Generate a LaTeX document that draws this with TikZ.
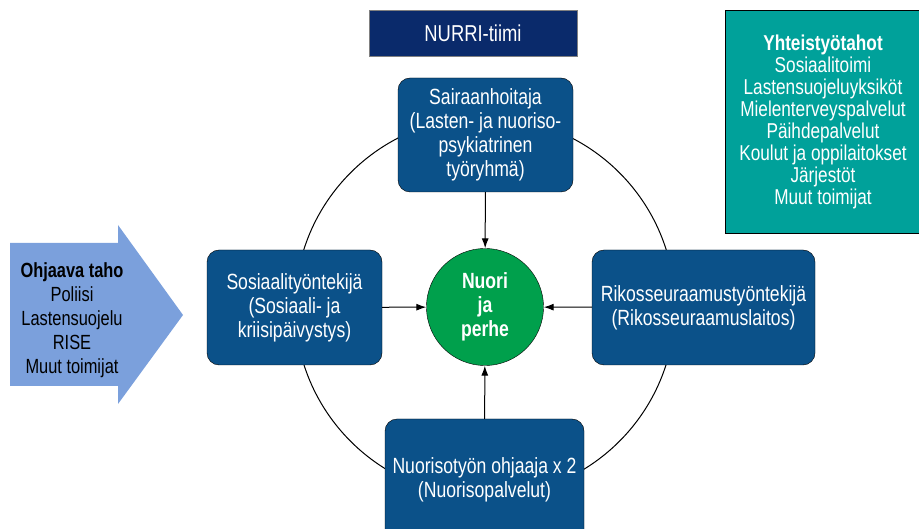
\documentclass[tikz,border=0pt]{standalone}
\usepackage{fontspec}
\setmainfont{Liberation Sans}[FakeStretch=0.8]
\usepackage{tikz}
\usetikzlibrary{arrows.meta}

\definecolor{boxblue}{HTML}{0B5189}
\definecolor{teamnavy}{HTML}{0A2A6B}
\definecolor{partnerteal}{HTML}{00A19A}
\definecolor{familygreen}{HTML}{00A04C}
\definecolor{referblue}{HTML}{7BA0DC}

\begin{document}
\begin{tikzpicture}[x=1pt, y=-1pt,
  member/.style={draw=black, fill=boxblue, rounded corners=12pt, text=white, align=center, font=\fontsize{22}{24}\selectfont},
  family/.style={circle, draw=black, fill=familygreen, minimum size=117pt, inner sep=0pt, text=white, align=center, font=\fontsize{22}{24}\selectfont\bfseries},
  toward/.style={-{Latex[length=10pt,width=7pt]}, line width=1pt}]
\useasboundingbox (0,0) rectangle (919,529);

% yhteistyön kehä
\draw[line width=1pt] (485,307) circle (190);

\node[draw=gray, fill=teamnavy, minimum width=208pt, minimum height=46pt, text=white, font=\fontsize{23}{24}\selectfont] (team) at (473,33) {NURRI-tiimi};
\node[draw=black, fill=partnerteal, minimum width=196pt, minimum height=223pt, text=white, align=center, font=\fontsize{21.5}{22}\selectfont] (partners) at (823,121.5) {\textbf{Yhteistyötahot}\\Sosiaalitoimi\\Lastensuojeluyksiköt\\Mielenterveyspalvelut\\Päihdepalvelut\\Koulut ja oppilaitokset\\Järjestöt\\Muut toimijat};

\node[family] (family) at (485,307) {Nuori\\ja\\perhe};
\node[member, minimum width=175pt, minimum height=114pt] (nurse) at (485.5,135) {Sairaanhoitaja\\(Lasten- ja nuoriso-\\psykiatrinen\\työryhmä)};
\node[member, minimum width=175pt, minimum height=115pt] (social) at (294.5,307.5) {Sosiaalityöntekijä\\(Sosiaali- ja\\kriisipäivystys)};
\node[member, minimum width=223pt, minimum height=115pt] (probation) at (703.5,307.5) {Rikosseuraamustyöntekijä\\(Rikosseuraamuslaitos)};
\node[member, minimum width=199pt, minimum height=122pt] (youth) at (484.5,480) {Nuorisotyön ohjaaja x 2\\(Nuorisopalvelut)};

% ohjaava taho
\fill[referblue] (10,243) -- (118,243) -- (118,225) -- (183,315) -- (118,404) -- (118,386) -- (10,386) -- cycle;
\node[align=center, font=\fontsize{20.5}{24}\selectfont] (referrer) at (72,320) {\textbf{Ohjaava taho}\\Poliisi\\Lastensuojelu\\RISE\\Muut toimijat};

\draw[toward] (nurse) -- (family);
\draw[toward] (social) -- (family);
\draw[toward] (probation) -- (family);
\draw[toward] (youth) -- (family);
\end{tikzpicture}
\end{document}
